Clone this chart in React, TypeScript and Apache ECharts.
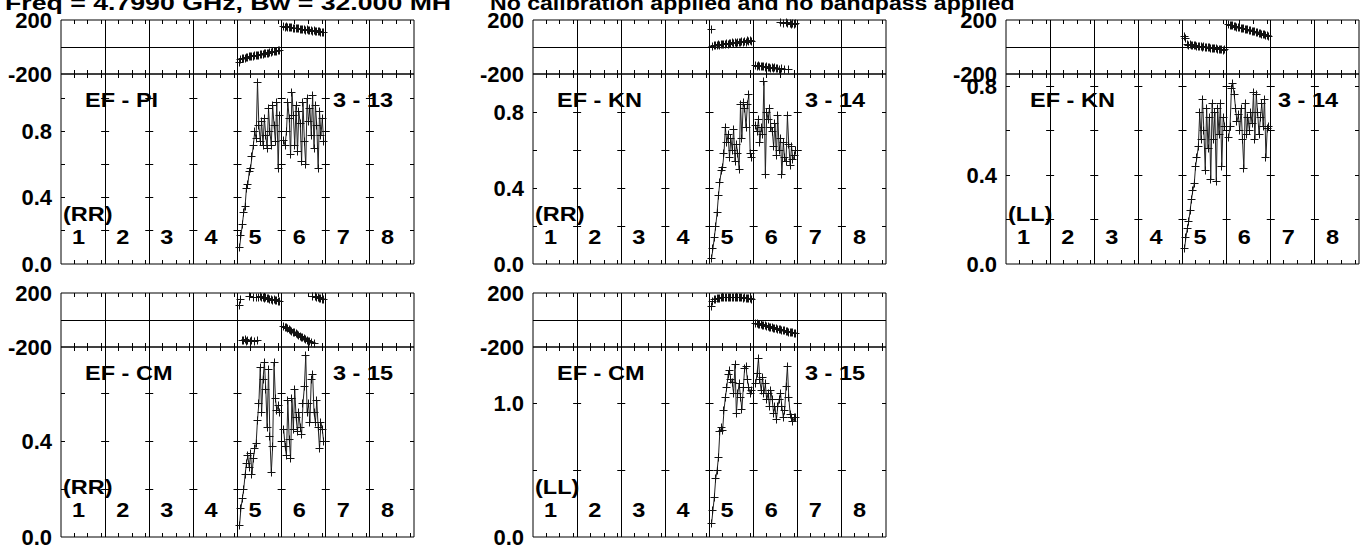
import React, { useEffect, useRef } from 'react';
import * as echarts from 'echarts';

// ---------------- data ----------------
const TITLE_LEFT = 'Freq = 4.7990 GHz, Bw = 32.000 MH';
const TITLE_RIGHT = 'No calibration applied and no bandpass applied';
const IF_LABELS = ['1', '2', '3', '4', '5', '6', '7', '8'];
const BASELINES = ['EF - PI', 'EF - KN', 'EF - KN', 'EF - CM', 'EF - CM'];
const ANT_PAIRS = ['3 - 13', '3 - 14', '3 - 14', '3 - 15', '3 - 15'];
const STOKES = ['(RR)', '(RR)', '(LL)', '(RR)', '(LL)'];
const AMP_MAX = [1.15, 1.0, 0.854, 0.796, 1.428];
const AMP_TICK = [0.2, 0.2, 0.2, 0.2, 0.5];
const AMP_LABEL_STEP = [0.4, 0.4, 0.4, 0.4, 1.0];
const PHASE_MIN = -200;
const PHASE_MAX = 200;
const N_IF = 8;
const CHANNELS_PER_IF = 32;
const FIRST_CHANNEL = 2;
const CHANNEL_TICKS = [10, 20, 30];

const P1_AMP5 = [0.10, 0.17, 0.24, 0.31, 0.35, 0.46, 0.48, 0.56, 0.58, 0.65, 0.72, 0.80, 0.76, 1.10, 0.84, 0.74, 0.86, 0.72, 0.88, 0.78, 0.70, 0.94, 0.80, 0.72, 0.96, 0.84, 0.74, 0.98, 0.58, 0.90];
const P1_AMP6 = [0.75, 0.72, 0.80, 0.98, 0.88, 0.66, 1.04, 0.90, 0.72, 0.96, 0.68, 0.92, 0.85, 0.62, 0.98, 0.74, 0.60, 1.00, 0.86, 0.94, 0.78, 1.02, 0.70, 0.96, 0.84, 0.58, 0.92, 0.78, 0.88, 0.74];
const P1_PH5 = [-114, -90, -88, -82, -84, -78, -79, -74, -73, -70, -71, -64, -66, -60, -62, -57, -55, -54, -50, -50, -45, -47, -41, -42, -37, -36, -33, -31, -27, -28];
const P1_PH6 = [152, 148, 150, 144, 147, 142, 144, 139, 138, 140, 134, 136, 131, 133, 128, 130, 125, 127, 123, 121, 123, 118, 120, 115, 117, 112, 113, 109, 108, 105];

const P2_AMP5 = [0.03, 0.08, 0.14, 0.20, 0.27, 0.36, 0.43, 0.49, 0.51, 0.58, 0.72, 0.64, 0.68, 0.56, 0.66, 0.60, 0.71, 0.54, 0.63, 0.58, 0.50, 0.84, 0.66, 0.85, 0.82, 0.72, 0.84, 0.89, 0.58, 0.56];
const P2_AMP6 = [0.73, 0.70, 0.76, 0.64, 0.72, 0.68, 0.96, 0.47, 0.80, 0.76, 0.82, 0.72, 0.70, 0.62, 0.74, 0.57, 0.78, 0.60, 0.66, 0.47, 0.64, 0.56, 0.54, 0.78, 0.63, 0.52, 0.62, 0.55, 0.57, 0.60];
const P2_PH5 = [131, 4, 14, 8, 12, 16, 10, 20, 15, 22, 18, 24, 21, 27, 24, 30, 25, 33, 29, 31, 36, 32, 38, 35, 41, 37, 45, 42, 47, 44];
const P2_PH6 = [-140, -143, -138, -146, -142, -148, -145, -151, -147, -153, -150, -156, -152, -158, -155, -160, -157, -163, 178, -162, 175, -166, 179, 172, -169, 176, 170, 174, 167, 172];

const P3_AMP5 = [0.07, 0.12, 0.16, 0.19, 0.24, 0.29, 0.33, 0.36, 0.44, 0.48, 0.53, 0.68, 0.56, 0.74, 0.60, 0.42, 0.70, 0.52, 0.66, 0.38, 0.72, 0.56, 0.68, 0.37, 0.70, 0.58, 0.72, 0.44, 0.66, 0.62];
const P3_AMP6 = [0.57, 0.62, 0.79, 0.81, 0.76, 0.70, 0.64, 0.67, 0.60, 0.70, 0.56, 0.43, 0.72, 0.58, 0.66, 0.60, 0.68, 0.63, 0.77, 0.56, 0.76, 0.68, 0.58, 0.66, 0.72, 0.62, 0.74, 0.48, 0.61, 0.62];
const P3_PH5 = [80, 62, 18, 14, 16, 10, 12, 8, 9, 5, 6, 2, 4, 0, 1, -3, -2, -6, -5, -9, -8, -12, -11, -14, -15, -18, -17, -21, -24, -22];
const P3_PH6 = [165, 160, 158, 156, 152, 150, 147, 146, 141, 140, 136, 134, 131, 128, 126, 122, 121, 117, 114, 112, 108, 106, 102, 100, 96, 93, 90, 86, 82, 78];

const P4_AMP5 = [0.05, 0.12, 0.16, 0.20, 0.26, 0.31, 0.34, 0.29, 0.35, 0.26, 0.33, 0.37, 0.39, 0.49, 0.56, 0.71, 0.52, 0.66, 0.73, 0.62, 0.46, 0.70, 0.42, 0.27, 0.38, 0.73, 0.58, 0.53, 0.55, 0.52];
const P4_AMP6 = [0.45, 0.38, 0.34, 0.57, 0.41, 0.33, 0.58, 0.45, 0.62, 0.50, 0.44, 0.52, 0.46, 0.43, 0.56, 0.63, 0.76, 0.52, 0.56, 0.48, 0.66, 0.68, 0.52, 0.48, 0.57, 0.46, 0.37, 0.48, 0.45, 0.40];
const P4_PH5 = [106, 150, -150, -155, -148, -160, -152, 172, -158, -150, 168, -162, 170, -155, 166, 172, 164, 168, 160, 163, 156, 160, 152, 155, 148, 150, 143, 146, 138, 135];
const P4_PH6 = [-45, -52, -58, -66, -70, -78, -84, -90, -96, -102, -108, -112, -120, -126, -132, -138, -144, -150, -156, -162, -168, 176, -174, 172, 168, 165, 160, 158, 152, 150];

const P5_AMP5 = [0.10, 0.20, 0.30, 0.44, 0.50, 0.60, 0.79, 0.82, 0.80, 0.95, 1.05, 1.12, 1.22, 1.25, 1.18, 1.16, 1.08, 1.30, 0.93, 1.08, 1.15, 1.05, 0.96, 1.12, 1.27, 1.28, 1.18, 1.12, 1.08, 1.10];
const P5_AMP6 = [1.15, 1.23, 1.34, 1.18, 1.10, 1.20, 1.08, 1.15, 1.03, 1.08, 0.98, 1.10, 1.03, 0.93, 0.98, 0.88, 0.98, 1.03, 1.08, 0.98, 0.90, 0.95, 1.13, 1.28, 1.05, 0.92, 0.90, 0.87, 0.90, 0.90];
const P5_PH5 = [100, 140, 150, 155, 158, 160, 162, 164, 163, 166, 165, 168, 167, 170, 168, 169, 170, 167, 168, 166, 167, 164, 165, 162, 163, 160, 161, 158, 157, 155];
const P5_PH6 = [-24, -28, -30, -33, -36, -38, -42, -44, -47, -50, -52, -55, -58, -60, -63, -65, -68, -71, -73, -76, -78, -81, -84, -86, -89, -91, -94, -96, -99, -101];

const AMP_IF5 = [P1_AMP5, P2_AMP5, P3_AMP5, P4_AMP5, P5_AMP5];
const AMP_IF6 = [P1_AMP6, P2_AMP6, P3_AMP6, P4_AMP6, P5_AMP6];
const PH_IF5 = [P1_PH5, P2_PH5, P3_PH5, P4_PH5, P5_PH5];
const PH_IF6 = [P1_PH6, P2_PH6, P3_PH6, P4_PH6, P5_PH6];

// ---------------- layout ----------------
const PANEL_POS = [
  [61, 20],
  [533, 20],
  [1006, 20],
  [61, 293],
  [533, 293],
];
const PANEL_W = 353;
const PHASE_H = 54;
const AMP_H = 190;
const FONT = 'Liberation Sans';
const TEXT_SCALE = 1.12;

function chX(ifIndex: number, ch: number) {
  return ifIndex + (ch - 0.5) / CHANNELS_PER_IF;
}

function toPoints(values: number[], ifIndex: number) {
  return values.map((v, i) => [chX(ifIndex, FIRST_CHANNEL + i), v]);
}

const h = (v: number) => Math.round(v - 0.5) + 0.5;

function line(x1: number, y1: number, x2: number, y2: number) {
  return {
    type: 'line',
    shape: { x1, y1, x2, y2 },
    style: { stroke: '#000', lineWidth: 1 },
  };
}

function decorSeries(gridIdx: number, isAmp: boolean, yMin: number, yMax: number, tickStep: number) {
  return {
    type: 'custom',
    xAxisIndex: gridIdx,
    yAxisIndex: gridIdx,
    silent: true,
    z: 1,
    data: [[0, yMin]],
    renderItem: (_params: any, api: any) => {
      const children: any[] = [];
      const left = api.coord([0, yMin])[0];
      const right = api.coord([N_IF, yMin])[0];
      const bottom = api.coord([0, yMin])[1];
      const top = api.coord([0, yMax])[1];
      for (let k = 1; k < N_IF; k++) {
        const x = h(api.coord([k, yMin])[0]);
        children.push(line(x, top, x, bottom));
      }
      for (let k = 0; k < N_IF; k++) {
        for (const c of CHANNEL_TICKS) {
          const x = h(api.coord([chX(k, c), yMin])[0]);
          children.push(line(x, bottom, x, bottom - 4));
          children.push(line(x, top, x, top + 4));
        }
      }
      if (isAmp) {
        for (let v = tickStep; v < yMax - 1e-6; v += tickStep) {
          const y = h(api.coord([0, v])[1]);
          for (let k = 0; k <= N_IF; k++) {
            const x = api.coord([k, v])[0];
            const x1 = k > 0 ? x - 4 : x;
            const x2 = k < N_IF ? x + 4 : x;
            children.push(line(x1, y, x2, y));
          }
        }
      } else {
        const y = h(api.coord([0, 0])[1]);
        children.push(line(left, y, right, y));
      }
      return { type: 'group', children };
    },
  };
}

function crossSeries(gridIdx: number, pts: number[][]) {
  return {
    type: 'custom',
    xAxisIndex: gridIdx,
    yAxisIndex: gridIdx,
    silent: true,
    z: 3,
    data: pts,
    encode: { x: 0, y: 1 },
    renderItem: (_params: any, api: any) => {
      const p = api.coord([api.value(0), api.value(1)]);
      const x = h(p[0]);
      const y = h(p[1]);
      return {
        type: 'group',
        children: [
          { type: 'line', shape: { x1: x - 4, y1: y, x2: x + 4, y2: y }, style: { stroke: '#111', lineWidth: 1 } },
          { type: 'line', shape: { x1: x, y1: y - 4, x2: x, y2: y + 4 }, style: { stroke: '#111', lineWidth: 1 } },
        ],
      };
    },
  };
}

function isMultiple(v: number, step: number) {
  const r = v / step;
  return Math.abs(r - Math.round(r)) < 1e-6;
}

function labelStyle() {
  return {
    fontFamily: FONT,
    fontWeight: 'bold' as const,
    fontSize: 22,
    color: '#000',
    margin: 9,
  };
}

function text(x: number, y: number, s: string, scaleX = TEXT_SCALE, size = 21) {
  return {
    type: 'text',
    x,
    y,
    scaleX,
    z: 10,
    style: {
      text: s,
      fontFamily: FONT,
      fontWeight: 'bold',
      fontSize: size,
      fill: '#000',
      align: 'left',
      verticalAlign: 'middle',
    },
  };
}

function buildOption() {
  const grid: any[] = [];
  const xAxis: any[] = [];
  const yAxis: any[] = [];
  const series: any[] = [];
  const graphic: any[] = [];

  graphic.push(text(5, 3, TITLE_LEFT, 1.27));
  graphic.push(text(490, 3, TITLE_RIGHT, 1.1));

  for (let p = 0; p < PANEL_POS.length; p++) {
    const [L, T] = PANEL_POS[p];
    const gPh = 2 * p;
    const gAmp = 2 * p + 1;
    grid.push({ left: L, top: T, width: PANEL_W, height: PHASE_H, show: true, borderColor: '#000', borderWidth: 1, backgroundColor: 'transparent', outerBoundsMode: 'none' });
    grid.push({ left: L, top: T + PHASE_H, width: PANEL_W, height: AMP_H, show: true, borderColor: '#000', borderWidth: 1, backgroundColor: 'transparent', outerBoundsMode: 'none' });

    for (const g of [gPh, gAmp]) {
      xAxis.push({
        type: 'value',
        gridIndex: g,
        min: 0,
        max: N_IF,
        interval: 1,
        axisLine: { show: false },
        axisTick: { show: false },
        axisLabel: { show: false },
        splitLine: { show: false },
      });
    }
    yAxis.push({
      type: 'value',
      gridIndex: gPh,
      min: PHASE_MIN,
      max: PHASE_MAX,
      interval: 200,
      axisLine: { show: false },
      axisTick: { show: false },
      splitLine: { show: false },
      axisLabel: { ...labelStyle(), formatter: (v: number) => (v === 0 ? '' : String(v)) },
    });
    const step = AMP_TICK[p];
    const lstep = AMP_LABEL_STEP[p];
    yAxis.push({
      type: 'value',
      gridIndex: gAmp,
      min: 0,
      max: AMP_MAX[p],
      interval: step,
      axisLine: { show: false },
      axisTick: { show: false },
      splitLine: { show: false },
      axisLabel: {
        ...labelStyle(),
        showMaxLabel: true,
        showMinLabel: true,
        formatter: (v: number) => (isMultiple(v, lstep) ? v.toFixed(1) : ''),
      },
    });

    series.push(decorSeries(gPh, false, PHASE_MIN, PHASE_MAX, 200));
    series.push(decorSeries(gAmp, true, 0, AMP_MAX[p], step));

    const a5 = toPoints(AMP_IF5[p], 4);
    const a6 = toPoints(AMP_IF6[p], 5);
    for (const pts of [a5, a6]) {
      series.push({
        type: 'line',
        xAxisIndex: gAmp,
        yAxisIndex: gAmp,
        data: pts,
        symbol: 'none',
        silent: true,
        z: 2,
        lineStyle: { color: '#222', width: 1 },
      });
    }
    series.push(crossSeries(gAmp, [...a5, ...a6]));
    series.push(crossSeries(gPh, [...toPoints(PH_IF5[p], 4), ...toPoints(PH_IF6[p], 5)]));

    const ampTop = T + PHASE_H;
    const ampBottom = T + PHASE_H + AMP_H;
    const ifw = PANEL_W / N_IF;
    graphic.push(text(L + 24, ampTop + 26, BASELINES[p]));
    graphic.push(text(L + 272, ampTop + 26, ANT_PAIRS[p]));
    graphic.push(text(L + 2, ampBottom - 50, STOKES[p]));
    IF_LABELS.forEach((lab, k) => {
      graphic.push(text(L + k * ifw + 11, ampBottom - 27, lab));
    });
  }

  return {
    animation: false,
    backgroundColor: '#fff',
    grid,
    xAxis,
    yAxis,
    series,
    graphic,
  };
}

export default function App() {
  const ref = useRef<HTMLDivElement>(null);
  useEffect(() => {
    const chart = echarts.init(ref.current!, null, { renderer: 'svg' });
    chart.setOption(buildOption() as any);
    return () => chart.dispose();
  }, []);
  return (
    <div
      ref={ref}
      style={{ position: 'fixed', left: 0, top: 0, width: 1366, height: 552, background: '#fff' }}
    />
  );
}
